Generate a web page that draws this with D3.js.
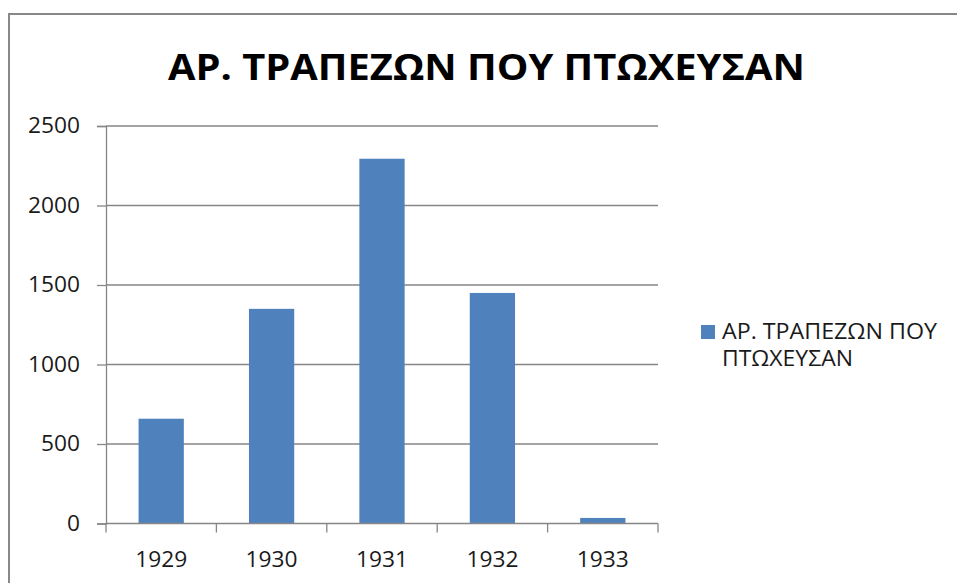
<!DOCTYPE html>
<html lang="el">
<head>
    <meta charset="UTF-8">
    <title>ΑΡ. ΤΡΑΠΕΖΩΝ ΠΟΥ ΠΤΩΧΕΥΣΑΝ</title>
    <script src="https://d3js.org/d3.v7.min.js"></script>
    <style>
        body { margin: 0; background: #fff; }
        svg { display: block; font-family: "Open Sans", sans-serif; }
    </style>
</head>
<body>
<div id="chart-area"></div>
<script>
    // data
    const years = ["1929", "1930", "1931", "1932", "1933"];
    const failedBanks = [659, 1350, 2294, 1450, 35];
    const yTicks = [0, 500, 1000, 1500, 2000, 2500];
    const chartTitle = "ΑΡ. ΤΡΑΠΕΖΩΝ ΠΟΥ ΠΤΩΧΕΥΣΑΝ";
    const seriesName = ["ΑΡ. ΤΡΑΠΕΖΩΝ ΠΟΥ", "ΠΤΩΧΕΥΣΑΝ"];

    const width = 957;
    const height = 583;
    const plot = { left: 106, right: 658, top: 126, bottom: 523.5 };
    const gridColor = "#868686";
    const barColor = "#4f81bd";
    const digitWidth = 13; // labels in the original are a bit wide

    const svg = d3.select("#chart-area")
        .append("svg")
            .attr("width", width)
            .attr("height", height);

    // outer chart frame
    svg.append("rect")
        .attr("x", 9).attr("y", 14)
        .attr("width", width + 20).attr("height", height + 20)
        .attr("fill", "none")
        .attr("stroke", "#888")
        .attr("stroke-width", 2);

    // title
    svg.append("text")
        .attr("x", 486.5).attr("y", 80)
        .attr("text-anchor", "middle")
        .attr("font-weight", "bold")
        .attr("font-size", 35)
        .attr("textLength", 637)
        .attr("lengthAdjust", "spacingAndGlyphs")
        .attr("fill", "#000")
        .text(chartTitle);

    const x = d3.scaleBand()
        .domain(years)
        .range([plot.left, plot.right])
        .paddingInner(0.59)
        .paddingOuter(0.295);

    const y = d3.scaleLinear()
        .domain([0, 2500])
        .range([plot.bottom, plot.top]);

    // gridlines
    svg.append("g")
        .selectAll("line")
        .data(yTicks.filter(d => d > 0))
        .join("line")
            .attr("x1", plot.left).attr("x2", plot.right)
            .attr("y1", d => y(d)).attr("y2", d => y(d))
            .attr("stroke", gridColor)
            .attr("stroke-width", 1.3);

    // y axis
    const yAxis = svg.append("g")
        .attr("transform", `translate(${plot.left},0)`)
        .call(d3.axisLeft(y).tickValues(yTicks).tickFormat(d3.format("d"))
            .tickSize(9).tickPadding(17));
    yAxis.select(".domain").attr("stroke", gridColor).attr("stroke-width", 1.3);
    yAxis.selectAll(".tick line").attr("stroke", gridColor).attr("stroke-width", 1.3);
    yAxis.selectAll(".tick text")
        .attr("font-size", 21)
        .attr("font-family", "Open Sans")
        .attr("fill", "#1a1a1a")
        .attr("textLength", d => String(d).length * digitWidth)
        .attr("lengthAdjust", "spacingAndGlyphs");

    // bars
    svg.append("g")
        .selectAll("rect")
        .data(failedBanks)
        .join("rect")
            .attr("x", (d, i) => x(years[i]))
            .attr("width", x.bandwidth())
            .attr("y", d => y(d))
            .attr("height", d => y(0) - y(d))
            .attr("fill", barColor);

    // x axis with ticks at category boundaries
    const xAxis = svg.append("g")
        .attr("transform", `translate(0,${plot.bottom})`);
    xAxis.append("line")
        .attr("x1", plot.left).attr("x2", plot.right)
        .attr("stroke", gridColor).attr("stroke-width", 1.3);
    const step = x.step();
    xAxis.selectAll(".sep")
        .data(d3.range(years.length + 1))
        .join("line")
            .attr("class", "sep")
            .attr("x1", i => plot.left + i * step)
            .attr("x2", i => plot.left + i * step)
            .attr("y1", 0).attr("y2", 9)
            .attr("stroke", gridColor).attr("stroke-width", 1.3);
    xAxis.selectAll(".lbl")
        .data(years)
        .join("text")
            .attr("class", "lbl")
            .attr("x", d => x(d) + x.bandwidth() / 2)
            .attr("y", 43)
            .attr("text-anchor", "middle")
            .attr("font-size", 21)
            .attr("fill", "#1a1a1a")
            .attr("textLength", d => d.length * digitWidth)
            .attr("lengthAdjust", "spacingAndGlyphs")
            .text(d => d);

    // legend
    const legend = svg.append("g");
    legend.append("rect")
        .attr("x", 701).attr("y", 325)
        .attr("width", 14).attr("height", 14)
        .attr("fill", barColor);
    legend.selectAll("text")
        .data(seriesName)
        .join("text")
            .attr("x", 722)
            .attr("y", (d, i) => 339 + i * 27)
            .attr("font-size", 21)
            .attr("fill", "#1a1a1a")
            .attr("textLength", (d, i) => i === 0 ? 215 : 131)
            .attr("lengthAdjust", "spacingAndGlyphs")
            .text(d => d);
</script>
</body>
</html>
